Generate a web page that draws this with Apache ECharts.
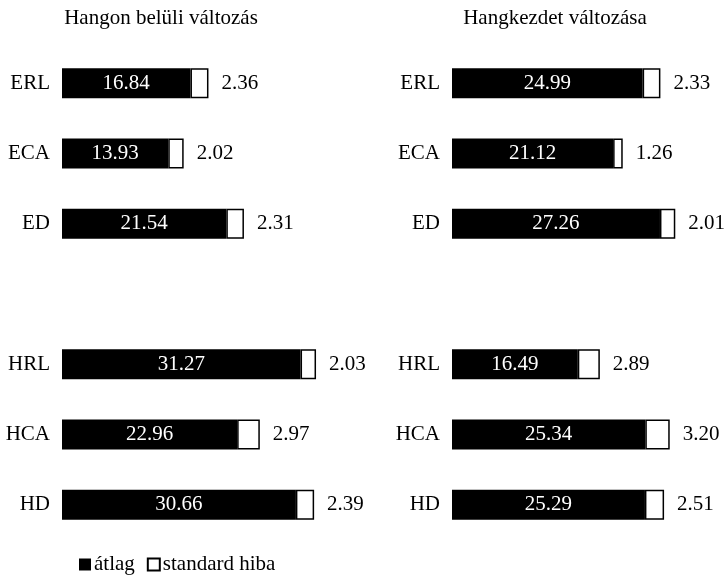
<!DOCTYPE html>
<html>
<head>
<meta charset="utf-8">
<script src="https://cdn.jsdelivr.net/npm/echarts@6/dist/echarts.min.js"></script>
<style>
html,body{margin:0;padding:0;background:#fff;}
#chart{width:728px;height:581px;}
</style>
</head>
<body>
<div id="chart"></div>
<script>
const titles = ['Hangon belüli változás', 'Hangkezdet változása'];
const topCats = ['ERL', 'ECA', 'ED'];
const bottomCats = ['HRL', 'HCA', 'HD'];
const legendNames = ['átlag', 'standard hiba'];

const meanTL = [16.84, 13.93, 21.54];
const seTL = [2.36, 2.02, 2.31];
const meanTR = [24.99, 21.12, 27.26];
const seTR = [2.33, 1.26, 2.01];
const meanBL = [31.27, 22.96, 30.66];
const seBL = [2.03, 2.97, 2.39];
const meanBR = [16.49, 25.34, 25.29];
const seBR = [2.89, 3.20, 2.51];

const FONT = "'Liberation Serif', 'Times New Roman', serif";
const FS = 21;

const chart = echarts.init(document.getElementById('chart'));

const panels = [
  {cats: topCats, mean: meanTL, se: seTL, left: 62, top: 48},
  {cats: topCats, mean: meanTR, se: seTR, left: 452, top: 48},
  {cats: bottomCats, mean: meanBL, se: seBL, left: 62, top: 329},
  {cats: bottomCats, mean: meanBR, se: seBR, left: 452, top: 329}
];

const grids = [], xAxes = [], yAxes = [], series = [];
panels.forEach((p, i) => {
  grids.push({left: p.left, top: p.top, width: 267, height: 211});
  xAxes.push({type: 'value', gridIndex: i, min: 0, max: 35, show: false});
  yAxes.push({
    type: 'category', gridIndex: i, data: p.cats, inverse: true,
    axisLine: {show: false}, axisTick: {show: false}, splitLine: {show: false},
    axisLabel: {margin: 12, color: '#000', fontFamily: FONT, fontSize: FS}
  });
  series.push({
    name: legendNames[0], type: 'bar', stack: 's' + i,
    xAxisIndex: i, yAxisIndex: i, data: p.mean, barWidth: 30,
    itemStyle: {color: '#000'},
    label: {show: true, position: 'inside', color: '#fff', fontFamily: FONT, fontSize: FS,
      formatter: d => d.value.toFixed(2)},
    emphasis: {disabled: true}
  });
  series.push({
    name: legendNames[1], type: 'bar', stack: 's' + i,
    xAxisIndex: i, yAxisIndex: i, data: p.se, barWidth: 30,
    itemStyle: {color: '#fff', borderColor: '#000', borderWidth: 1.5},
    label: {show: true, position: 'right', distance: 13, color: '#000', fontFamily: FONT, fontSize: FS,
      formatter: d => d.value.toFixed(2)},
    emphasis: {disabled: true}
  });
});

chart.setOption({
  animation: false,
  backgroundColor: '#fff',
  title: [
    {text: titles[0], left: 156, top: 3, textAlign: 'center',
      textStyle: {fontFamily: FONT, fontSize: FS, fontWeight: 'normal', color: '#000'}},
    {text: titles[1], left: 550, top: 3, textAlign: 'center',
      textStyle: {fontFamily: FONT, fontSize: FS, fontWeight: 'normal', color: '#000'}}
  ],
  legend: {
    data: legendNames, left: 74, top: 549, icon: 'rect',
    itemWidth: 12, itemHeight: 12, itemGap: 12,
    textStyle: {fontFamily: FONT, fontSize: FS, color: '#000', padding: [0, 0, 0, -2]}
  },
  grid: grids, xAxis: xAxes, yAxis: yAxes, series: series
});
</script>
</body>
</html>
